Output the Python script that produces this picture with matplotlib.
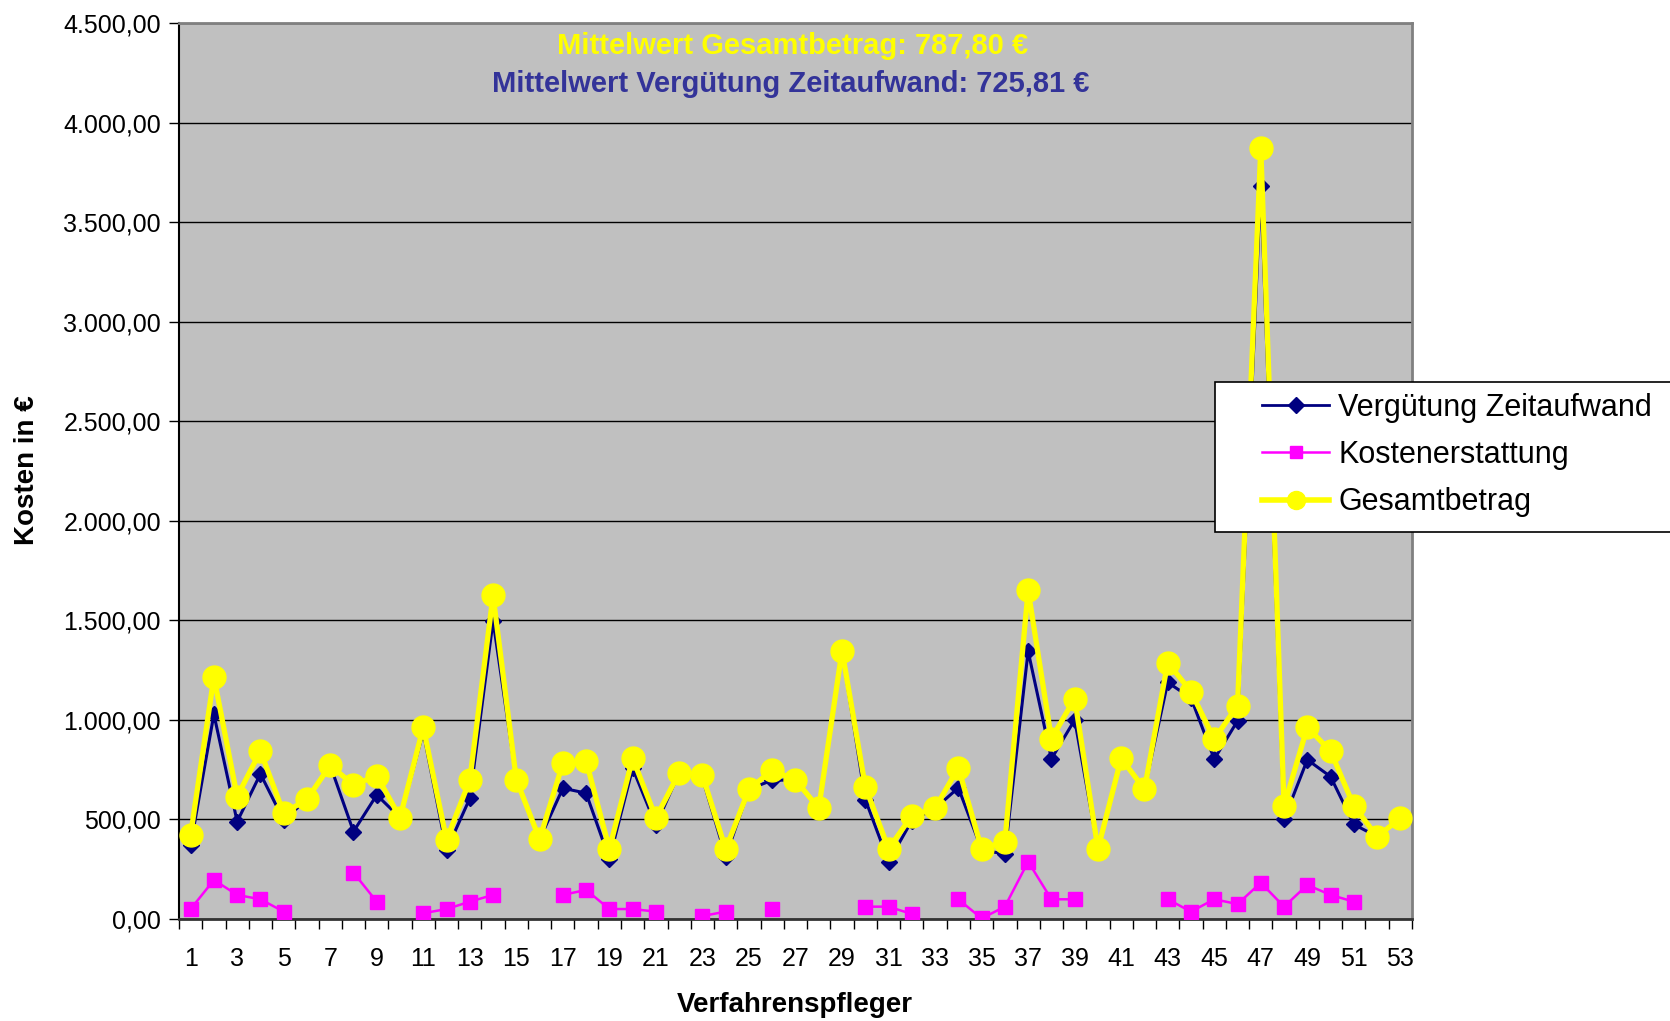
import numpy as np
import matplotlib
matplotlib.use("Agg")
import matplotlib.pyplot as plt
from matplotlib.lines import Line2D
from matplotlib.patches import Rectangle
from matplotlib.ticker import FuncFormatter, FixedLocator

nan = np.nan
categories = list(range(1, 54))
verguetung = [370, 1028, 489, 729, 496, 601, 772, 439, 623, 509,
              938, 345, 606, 1497, 700, 400, 657, 632, 302, 757,
              471, 735, 707, 313, 652, 697, 698, 556, 1348, 600,
              288, 494, 556, 659, 349, 325, 1345, 804, 1000, 352,
              807, 652, 1188, 1110, 803, 995, 3683, 500, 800, 715,
              475, 414, 506]
kosten = [50, 196, 121, 99, 37, nan, nan, 233, 87, nan,
          29, 50, 87, 121, nan, nan, 121, 146, 50, 50,
          37, nan, 15, 37, nan, 50, nan, nan, nan, 62,
          62, 25, nan, 99, 3, 62, 288, 99, 99, nan,
          nan, nan, 99, 37, 99, 75, 182, 62, 171, 121,
          87, nan, nan]
gesamt = [422, 1215, 615, 843, 531, 601, 772, 673, 720, 509,
          963, 397, 698, 1625, 700, 400, 782, 794, 352, 807,
          508, 735, 722, 350, 652, 747, 698, 556, 1348, 665,
          352, 519, 556, 760, 352, 389, 1650, 905, 1107, 352,
          807, 652, 1288, 1142, 903, 1072, 3873, 568, 963, 843,
          568, 414, 506]
series_names = ["Vergütung Zeitaufwand", "Kostenerstattung", "Gesamtbetrag"]
mean_texts = ["Mittelwert Gesamtbetrag: 787,80 €",
              "Mittelwert Vergütung Zeitaufwand: 725,81 €"]
yticks = list(range(0, 4501, 500))
xtick_labels = list(range(1, 54, 2))

plt.rcParams['font.family'] = ['Liberation Sans', 'DejaVu Sans']
W, H = 1670, 1021
fig = plt.figure(figsize=(W / 100, H / 100), dpi=100)
ax = fig.add_axes([179 / W, 1 - 919 / H, (1412 - 179) / W, (919 - 23) / H])
ax.set_facecolor('#C0C0C0')

navy = '#000080'
mag = '#FF00FF'
yel = '#FFFF00'

ax.plot(categories, verguetung, color=navy, lw=2.2, marker='D', ms=8,
        mfc=navy, mec=navy, zorder=3)
ax.plot(categories, kosten, color=mag, lw=1.8, marker='s', ms=10,
        mfc=mag, mec=mag, zorder=4)
ax.plot(categories, gesamt, color=yel, lw=3.8, marker='o', ms=16.5,
        mfc=yel, mec=yel, zorder=5)

ax.set_xlim(0.5, 53.5)
ax.set_ylim(0, 4500)
ax.yaxis.set_major_locator(FixedLocator(yticks))
ax.yaxis.set_major_formatter(FuncFormatter(
    lambda v, p: f"{v:,.2f}".replace(',', 'X').replace('.', ',').replace('X', '.')))
ax.tick_params(axis='y', direction='out', length=7, width=1, labelsize=18, pad=6, colors='black')
ax.grid(axis='y', color='black', lw=1, zorder=1)
ax.set_axisbelow(True)

ax.xaxis.set_major_locator(FixedLocator(xtick_labels))
ax.set_xticklabels([str(v) for v in xtick_labels])
ax.xaxis.set_minor_locator(FixedLocator(np.arange(0.5, 54, 1)))
ax.tick_params(axis='x', which='major', length=0, labelsize=18, pad=20)
ax.tick_params(axis='x', which='minor', direction='out', length=7, width=1)

for s in ['top', 'right']:
    ax.spines[s].set_color('#808080')
    ax.spines[s].set_linewidth(2)
ax.spines['left'].set_color('black')
ax.spines['left'].set_linewidth(1.5)
ax.spines['bottom'].set_color('#333333')
ax.spines['bottom'].set_linewidth(2)

fig.text(793 / W, 1 - 46 / H, mean_texts[0], ha='center', va='center',
         color=yel, fontsize=21, fontweight='bold')
fig.text(791 / W, 1 - 84 / H, mean_texts[1], ha='center', va='center',
         color='#333399', fontsize=21, fontweight='bold')

fig.text(27 / W, 1 - 470 / H, "Kosten in €", rotation=90, ha='center', va='center',
         fontsize=20, fontweight='bold')
fig.text(795 / W, 1 - 1005 / H, "Verfahrenspfleger", ha='center', va='center',
         fontsize=20, fontweight='bold')

# legend box
fig.patches.append(Rectangle((1215 / W, 1 - 532 / H), (W + 5 - 1215) / W, 150 / H,
                             transform=fig.transFigure, facecolor='white',
                             edgecolor='black', lw=1.2, zorder=10))
handles = [
    Line2D([], [], color=navy, lw=2, marker='D', ms=8, mfc=navy, mec=navy),
    Line2D([], [], color=mag, lw=1.8, marker='s', ms=9, mfc=mag, mec=mag),
    Line2D([], [], color=yel, lw=4, marker='o', ms=13, mfc=yel, mec=yel),
]
leg = fig.legend(handles, series_names, loc='upper left',
                 bbox_to_anchor=(1262 / W, 1 - 393 / H), frameon=False,
                 fontsize=22, handlelength=2.2, handletextpad=0.3,
                 labelspacing=0.56, borderpad=0, borderaxespad=0)
leg.set_zorder(11)

fig.savefig('out.png', dpi=100)
